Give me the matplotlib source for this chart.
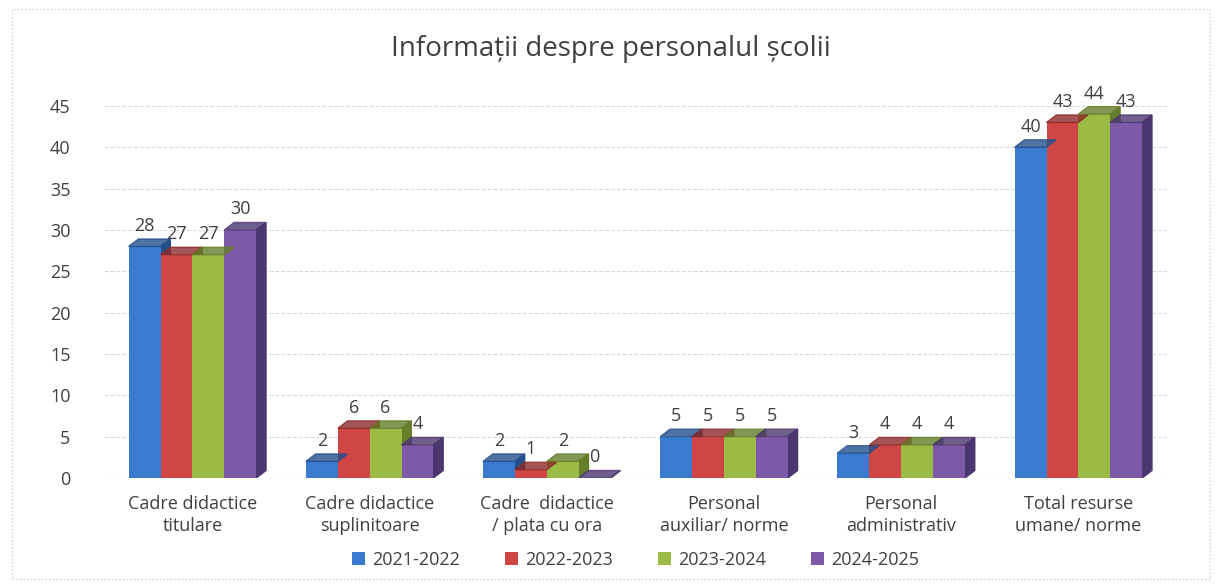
import matplotlib.pyplot as plt
import numpy as np
from matplotlib.patches import Polygon, Rectangle

categories = ["Cadre didactice\ntitulare", "Cadre didactice\nsuplinitoare",
              "Cadre  didactice\n/ plata cu ora", "Personal\nauxiliar/ norme",
              "Personal\nadministrativ", "Total resurse\numane/ norme"]
years = ["2021-2022", "2022-2023", "2023-2024", "2024-2025"]
v2021 = [28, 2, 2, 5, 3, 40]
v2022 = [27, 6, 1, 5, 4, 43]
v2023 = [27, 6, 2, 5, 4, 44]
v2024 = [30, 4, 0, 5, 4, 43]
series = [v2021, v2022, v2023, v2024]

colors = ["#3a7bd0", "#d04545", "#9bbb45", "#7d5aa8"]
dark = ["#23508c", "#8e2a2a", "#667d2a", "#4c3670"]

plt.rcParams['font.family'] = ['Open Sans', 'DejaVu Sans']

fig = plt.figure(figsize=(12.22, 5.85), dpi=100)
ax = fig.add_axes([0.085, 0.183, 0.87, 0.636])

x = np.arange(len(categories))
w = 0.18
dx, dy = 0.055, 0.9  # fake depth

for i, (vals, c, d) in enumerate(zip(series, colors, dark)):
    pos = x + (i - 1.5) * w
    ax.bar(pos, vals, width=w, color=c, zorder=3, label=years[i])
    for p, v in zip(pos, vals):
        r = p + w / 2
        l = p - w / 2
        # side face
        ax.add_patch(Polygon([[r, 0], [r + dx, dy], [r + dx, v + dy], [r, v]],
                             closed=True, color=d, zorder=2))
        # top face
        ax.add_patch(Polygon([[l, v], [l + dx, v + dy], [r + dx, v + dy], [r, v]],
                             closed=True, color=d, alpha=0.8, zorder=4))
        ax.text(p, v + dy + 0.5, str(v), ha="center", va="bottom",
                fontsize=13, color="#404040", zorder=5)

ax.set_xlim(-0.5, len(categories) - 0.5)
ax.set_ylim(0, 45)
ax.set_yticks(range(0, 46, 5))
ax.set_xticks(x)
ax.set_xticklabels(categories, fontsize=13, color="#404040", linespacing=1.3)
ax.tick_params(axis="y", labelsize=13, colors="#404040", length=0, pad=24)
ax.tick_params(axis="x", length=0, pad=12)
ax.grid(axis="y", color="#d8d8e8", linestyle="--", linewidth=0.8, zorder=0)
for s in ax.spines.values():
    s.set_visible(False)

fig.suptitle("Informații despre personalul școlii", y=0.94, fontsize=20,
             color="#404040")
fig.legend(loc="lower center", bbox_to_anchor=(0.52, 0.0), ncol=4, frameon=False,
           fontsize=13, handlelength=0.7, handleheight=0.7, columnspacing=2.5,
           handletextpad=0.4, labelcolor="#404040")

fig.add_artist(Rectangle((0.01, 0.01), 0.98, 0.975, transform=fig.transFigure,
                         fill=False, edgecolor="#cfcfcf", linestyle=":", linewidth=1))

fig.savefig("out.png", dpi=100)
